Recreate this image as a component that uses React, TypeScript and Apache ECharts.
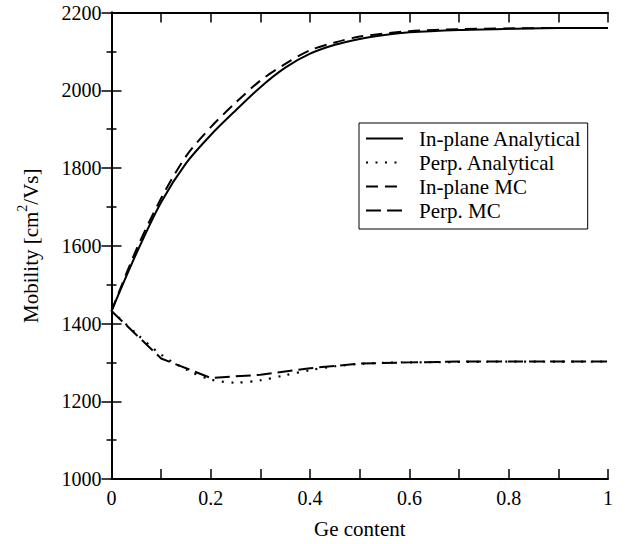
import React, { useEffect, useRef } from "react";
import * as echarts from "echarts";

const FONT = "Liberation Serif, Times New Roman, serif";

const seriesNames = ["In-plane Analytical", "Perp. Analytical", "In-plane MC", "Perp. MC"];

const geFine = [0, 0.05, 0.1, 0.15, 0.2, 0.25, 0.3, 0.35, 0.4, 0.45, 0.5, 0.55, 0.6, 0.7, 0.8, 0.9, 1.0];
const inPlaneAnalytical = [1432, 1580, 1712, 1812, 1885, 1948, 2008, 2058, 2094, 2117, 2132, 2142, 2149, 2155, 2158, 2160, 2160];
const perpAnalytical = [1432, 1374, 1320, 1282, 1256, 1248, 1254, 1267, 1280, 1290, 1296, 1299, 1300, 1301, 1302, 1302, 1302];

const geMC = [0, 0.05, 0.1, 0.15, 0.2, 0.25, 0.3, 0.35, 0.4, 0.45, 0.5, 0.6, 0.7, 0.8, 0.9, 1.0];
const inPlaneMC = [1432, 1590, 1722, 1830, 1905, 1968, 2025, 2068, 2103, 2123, 2138, 2152, 2157, 2159, 2160, 2160];

const gePerpMC = [0, 0.1, 0.2, 0.3, 0.4, 0.5, 0.6, 0.7, 0.8, 0.9, 1.0];
const perpMC = [1432, 1310, 1260, 1268, 1285, 1297, 1300, 1302, 1302, 1302, 1302];

const xTickLabels = ["0", "0.2", "0.4", "0.6", "0.8", "1"];

const pairs = (xs: number[], ys: number[]) => xs.map((x, i) => [x, ys[i]]);

export default function App() {
  const ref = useRef<HTMLDivElement>(null);
  useEffect(() => {
    if (!ref.current) return;
    const chart = echarts.init(ref.current, null, { renderer: "svg" });
    const axisLine = { show: true, lineStyle: { color: "#000", width: 2 } };
    const baseX = {
      type: "value",
      min: 0,
      max: 1,
      interval: 0.2,
      splitLine: { show: false },
      axisLine,
      axisTick: { show: true, inside: true, length: 10, lineStyle: { color: "#000", width: 1.5 } },
      minorTick: { show: true, splitNumber: 2, length: 10, lineStyle: { color: "#000", width: 1.5 } },
    };
    const baseY = {
      type: "value",
      min: 1000,
      max: 2200,
      interval: 200,
      splitLine: { show: false },
      axisLine,
      axisTick: { show: true, inside: true, length: 10, lineStyle: { color: "#000", width: 1.5 } },
      minorTick: { show: true, splitNumber: 2, length: 5, lineStyle: { color: "#000", width: 1.5 } },
    };
    chart.setOption({
      animation: false,
      backgroundColor: "#fff",
      textStyle: { fontFamily: FONT, color: "#000" },
      grid: { left: 111.5, right: 25, top: 12.5, bottom: 61.5, containLabel: false },
      legend: {
        orient: "vertical",
        left: 359,
        top: 123,
        data: seriesNames,
        borderColor: "#000",
        borderWidth: 1,
        borderRadius: 0,
        padding: [5, 6, 8, 6],
        itemWidth: 37,
        itemHeight: 14,
        itemGap: 3,
        itemStyle: { opacity: 0, borderWidth: 0 },
        textStyle: { fontFamily: FONT, fontSize: 21, color: "#000", padding: [0, 0, 0, 11] },
      },
      xAxis: [
        {
          ...baseX,
          position: "bottom",
          name: "Ge content",
          nameLocation: "middle",
          nameGap: 39,
          nameTextStyle: { fontFamily: FONT, fontSize: 21, color: "#000" },
          axisLabel: {
            margin: 9,
            fontFamily: FONT,
            fontSize: 20,
            color: "#000",
            formatter: (v: number) => xTickLabels[Math.round(v * 5)] ?? "",
          },
        },
        { ...baseX, position: "top", axisLabel: { show: false } },
      ],
      yAxis: [
        {
          ...baseY,
          position: "left",
          name: "Mobility [cm{sup|2}/Vs]",
          nameLocation: "middle",
          nameGap: 66,
          nameTextStyle: {
            fontFamily: FONT,
            fontSize: 21,
            color: "#000",
            lineHeight: 30,
            rich: { sup: { fontFamily: FONT, fontSize: 14, color: "#000", verticalAlign: "top", lineHeight: 14 } },
          },
          axisLabel: {
            margin: 10,
            fontFamily: FONT,
            fontSize: 20,
            color: "#000",
            formatter: (v: number) => String(v),
          },
        },
        { ...baseY, position: "right", axisLabel: { show: false } },
      ],
      series: [
        {
          name: seriesNames[0],
          type: "line",
          data: pairs(geFine, inPlaneAnalytical),
          smooth: 0.3,
          symbol: "none",
          lineStyle: { color: "#000", width: 2, type: "solid" },
          itemStyle: { color: "#000" },
        },
        {
          name: seriesNames[1],
          type: "line",
          data: pairs(geFine, perpAnalytical),
          smooth: 0.3,
          symbol: "none",
          lineStyle: { color: "#000", width: 2.2, type: [2, 7.5] },
          itemStyle: { color: "#000" },
        },
        {
          name: seriesNames[2],
          type: "line",
          data: pairs(geMC, inPlaneMC),
          smooth: 0.3,
          symbol: "none",
          lineStyle: { color: "#000", width: 2, type: [12, 7] },
          itemStyle: { color: "#000" },
        },
        {
          name: seriesNames[3],
          type: "line",
          data: pairs(gePerpMC, perpMC),
          smooth: false,
          symbol: "none",
          lineStyle: { color: "#000", width: 2, type: [15, 6] },
          itemStyle: { color: "#000" },
        },
      ],
    });
    return () => chart.dispose();
  }, []);
  return <div ref={ref} style={{ position: "absolute", left: 0, top: 0, width: 633, height: 544 }} />;
}
